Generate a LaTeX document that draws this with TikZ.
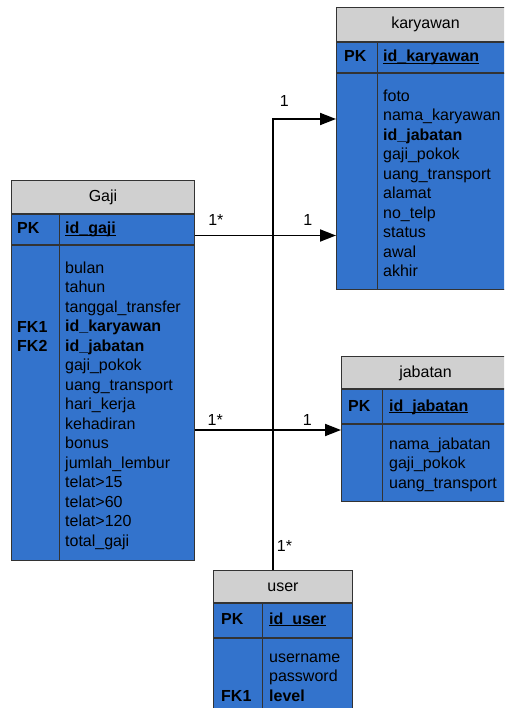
\documentclass[tikz,border=0pt]{standalone}
\usepackage{fontspec}
\setmainfont{Liberation Sans}
\usepackage{xcolor}
\definecolor{colorHead}{RGB}{208,208,208}
\definecolor{colorTable}{RGB}{51,115,204}
\colorlet{colorBorder}{black!80}
\usepackage{tikz}
\usetikzlibrary{arrows.meta, positioning}
\newcommand{\tblfont}{\fontsize{16}{19.5}\selectfont}
\tikzset{
  tblhead/.style={draw=colorBorder, fill=colorHead, line width=1pt, anchor=north west, inner sep=0pt, text height=12pt, text depth=3pt, font=\tblfont},
  tblrow/.style={draw=colorBorder, fill=colorTable, line width=1pt, inner sep=0pt, below=0pt of #1},
  tblline/.style={draw=colorBorder, line width=1pt},
  keytext/.style={anchor=base west, inner sep=0pt, font={\tblfont\bfseries}},
  keyblock/.style={anchor=north west, inner sep=0pt, align=left, font={\tblfont\bfseries}},
  fieldblock/.style={anchor=north west, inner sep=0pt, align=left, font=\tblfont},
  rel/.style={->, line width=1.8pt},
  card/.style={anchor=base, inner sep=0pt, font=\tblfont}
}

\begin{document}
\begin{tikzpicture}[x=1pt, y=-1pt, >={Triangle[length=16pt, width=12pt]}]
\clip (0,0) rectangle (504,708);
% Gaji
\node[tblhead, minimum width=183pt, minimum height=33pt] (gajiHead) at (11,180) {Gaji};
\node[tblrow=gajiHead, minimum width=183pt, minimum height=30pt] (gajiPK) {};
\node[tblrow=gajiPK, minimum width=183pt, minimum height=315pt] (gajiBody) {};
\coordinate (gajiSep) at (59,0);
\draw[tblline] (gajiSep |- gajiPK.north) -- (gajiSep |- gajiBody.south);
\node[keytext] (gajiPKkey) at (17,234) {PK};
\node[keytext] (gajiPKname) at (65,234) {\underbar{id\_gaji}};
\node[keyblock] (gajiFK) at (17,320) {\rule{0pt}{12pt}FK1\\FK2};
\node[fieldblock] (gajiFields) at (65,261) {\rule{0pt}{12pt}bulan\\tahun\\tanggal\_transfer\\\textbf{id\_karyawan}\\\textbf{id\_jabatan}\\gaji\_pokok\\uang\_transport\\hari\_kerja\\kehadiran\\bonus\\jumlah\_lembur\\telat>15\\telat>60\\telat>120\\total\_gaji};
% karyawan
\node[tblhead, minimum width=178pt, minimum height=34pt] (karyawanHead) at (336,7) {karyawan};
\node[tblrow=karyawanHead, minimum width=178pt, minimum height=30pt] (karyawanPK) {};
\node[tblrow=karyawanPK, minimum width=178pt, minimum height=216pt] (karyawanBody) {};
\coordinate (karyawanSep) at (377,0);
\draw[tblline] (karyawanSep |- karyawanPK.north) -- (karyawanSep |- karyawanBody.south);
\node[keytext] (karyawanPKkey) at (344,62) {PK};
\node[keytext] (karyawanPKname) at (383,62) {\underbar{id\_karyawan}};
\node[fieldblock] (karyawanFields) at (383,89) {\rule{0pt}{12pt}foto\\nama\_karyawan\\\textbf{id\_jabatan}\\gaji\_pokok\\uang\_transport\\alamat\\no\_telp\\status\\awal\\akhir};
% jabatan
\node[tblhead, minimum width=168pt, minimum height=32pt] (jabatanHead) at (341,356) {jabatan};
\node[tblrow=jabatanHead, minimum width=168pt, minimum height=34pt] (jabatanPK) {};
\node[tblrow=jabatanPK, minimum width=168pt, minimum height=77pt] (jabatanBody) {};
\coordinate (jabatanSep) at (382,0);
\draw[tblline] (jabatanSep |- jabatanPK.north) -- (jabatanSep |- jabatanBody.south);
\node[keytext] (jabatanPKkey) at (348,411) {PK};
\node[keytext] (jabatanPKname) at (389,411) {\underbar{id\_jabatan}};
\node[fieldblock] (jabatanFields) at (389,437) {\rule{0pt}{12pt}nama\_jabatan\\gaji\_pokok\\uang\_transport};
% user
\node[tblhead, minimum width=139pt, minimum height=32pt] (userHead) at (213,570) {user};
\node[tblrow=userHead, minimum width=139pt, minimum height=34pt] (userPK) {};
\node[tblrow=userPK, minimum width=139pt, minimum height=90pt] (userBody) {};
\coordinate (userSep) at (262,0);
\draw[tblline] (userSep |- userPK.north) -- (userSep |- userBody.south);
\node[keytext] (userPKkey) at (221,624) {PK};
\node[keytext] (userPKname) at (269,624) {\underbar{id\_user}};
\node[keytext] (userFK) at (221,701) {FK1};
\node[fieldblock] (userFields) at (269,650) {\rule{0pt}{12pt}username\\password\\\textbf{level}};
% relations
\coordinate (relBend) at (273,119);
\coordinate (relKar) at ([yshift=-6pt]gajiPK.east);
\coordinate (relJab) at ([yshift=-6pt]jabatanBody.north west);
\draw[rel] (userHead.north -| relBend) -- node[card, anchor=base west, pos=0.04, xshift=3pt] {1*} (relBend) -- (relBend -| karyawanBody.west) node[card, pos=0.18, yshift=12pt] {1};
\draw[rel] (relKar) -- (relKar -| karyawanBody.west) node[card, pos=0.148, yshift=10pt] {1*} node[card, pos=0.8, yshift=10pt] {1};
\draw[rel] (gajiBody.east |- relJab) -- (relJab) node[card, pos=0.139, yshift=5pt] {1*} node[card, pos=0.769, yshift=5pt] {1};
\end{tikzpicture}
\end{document}
